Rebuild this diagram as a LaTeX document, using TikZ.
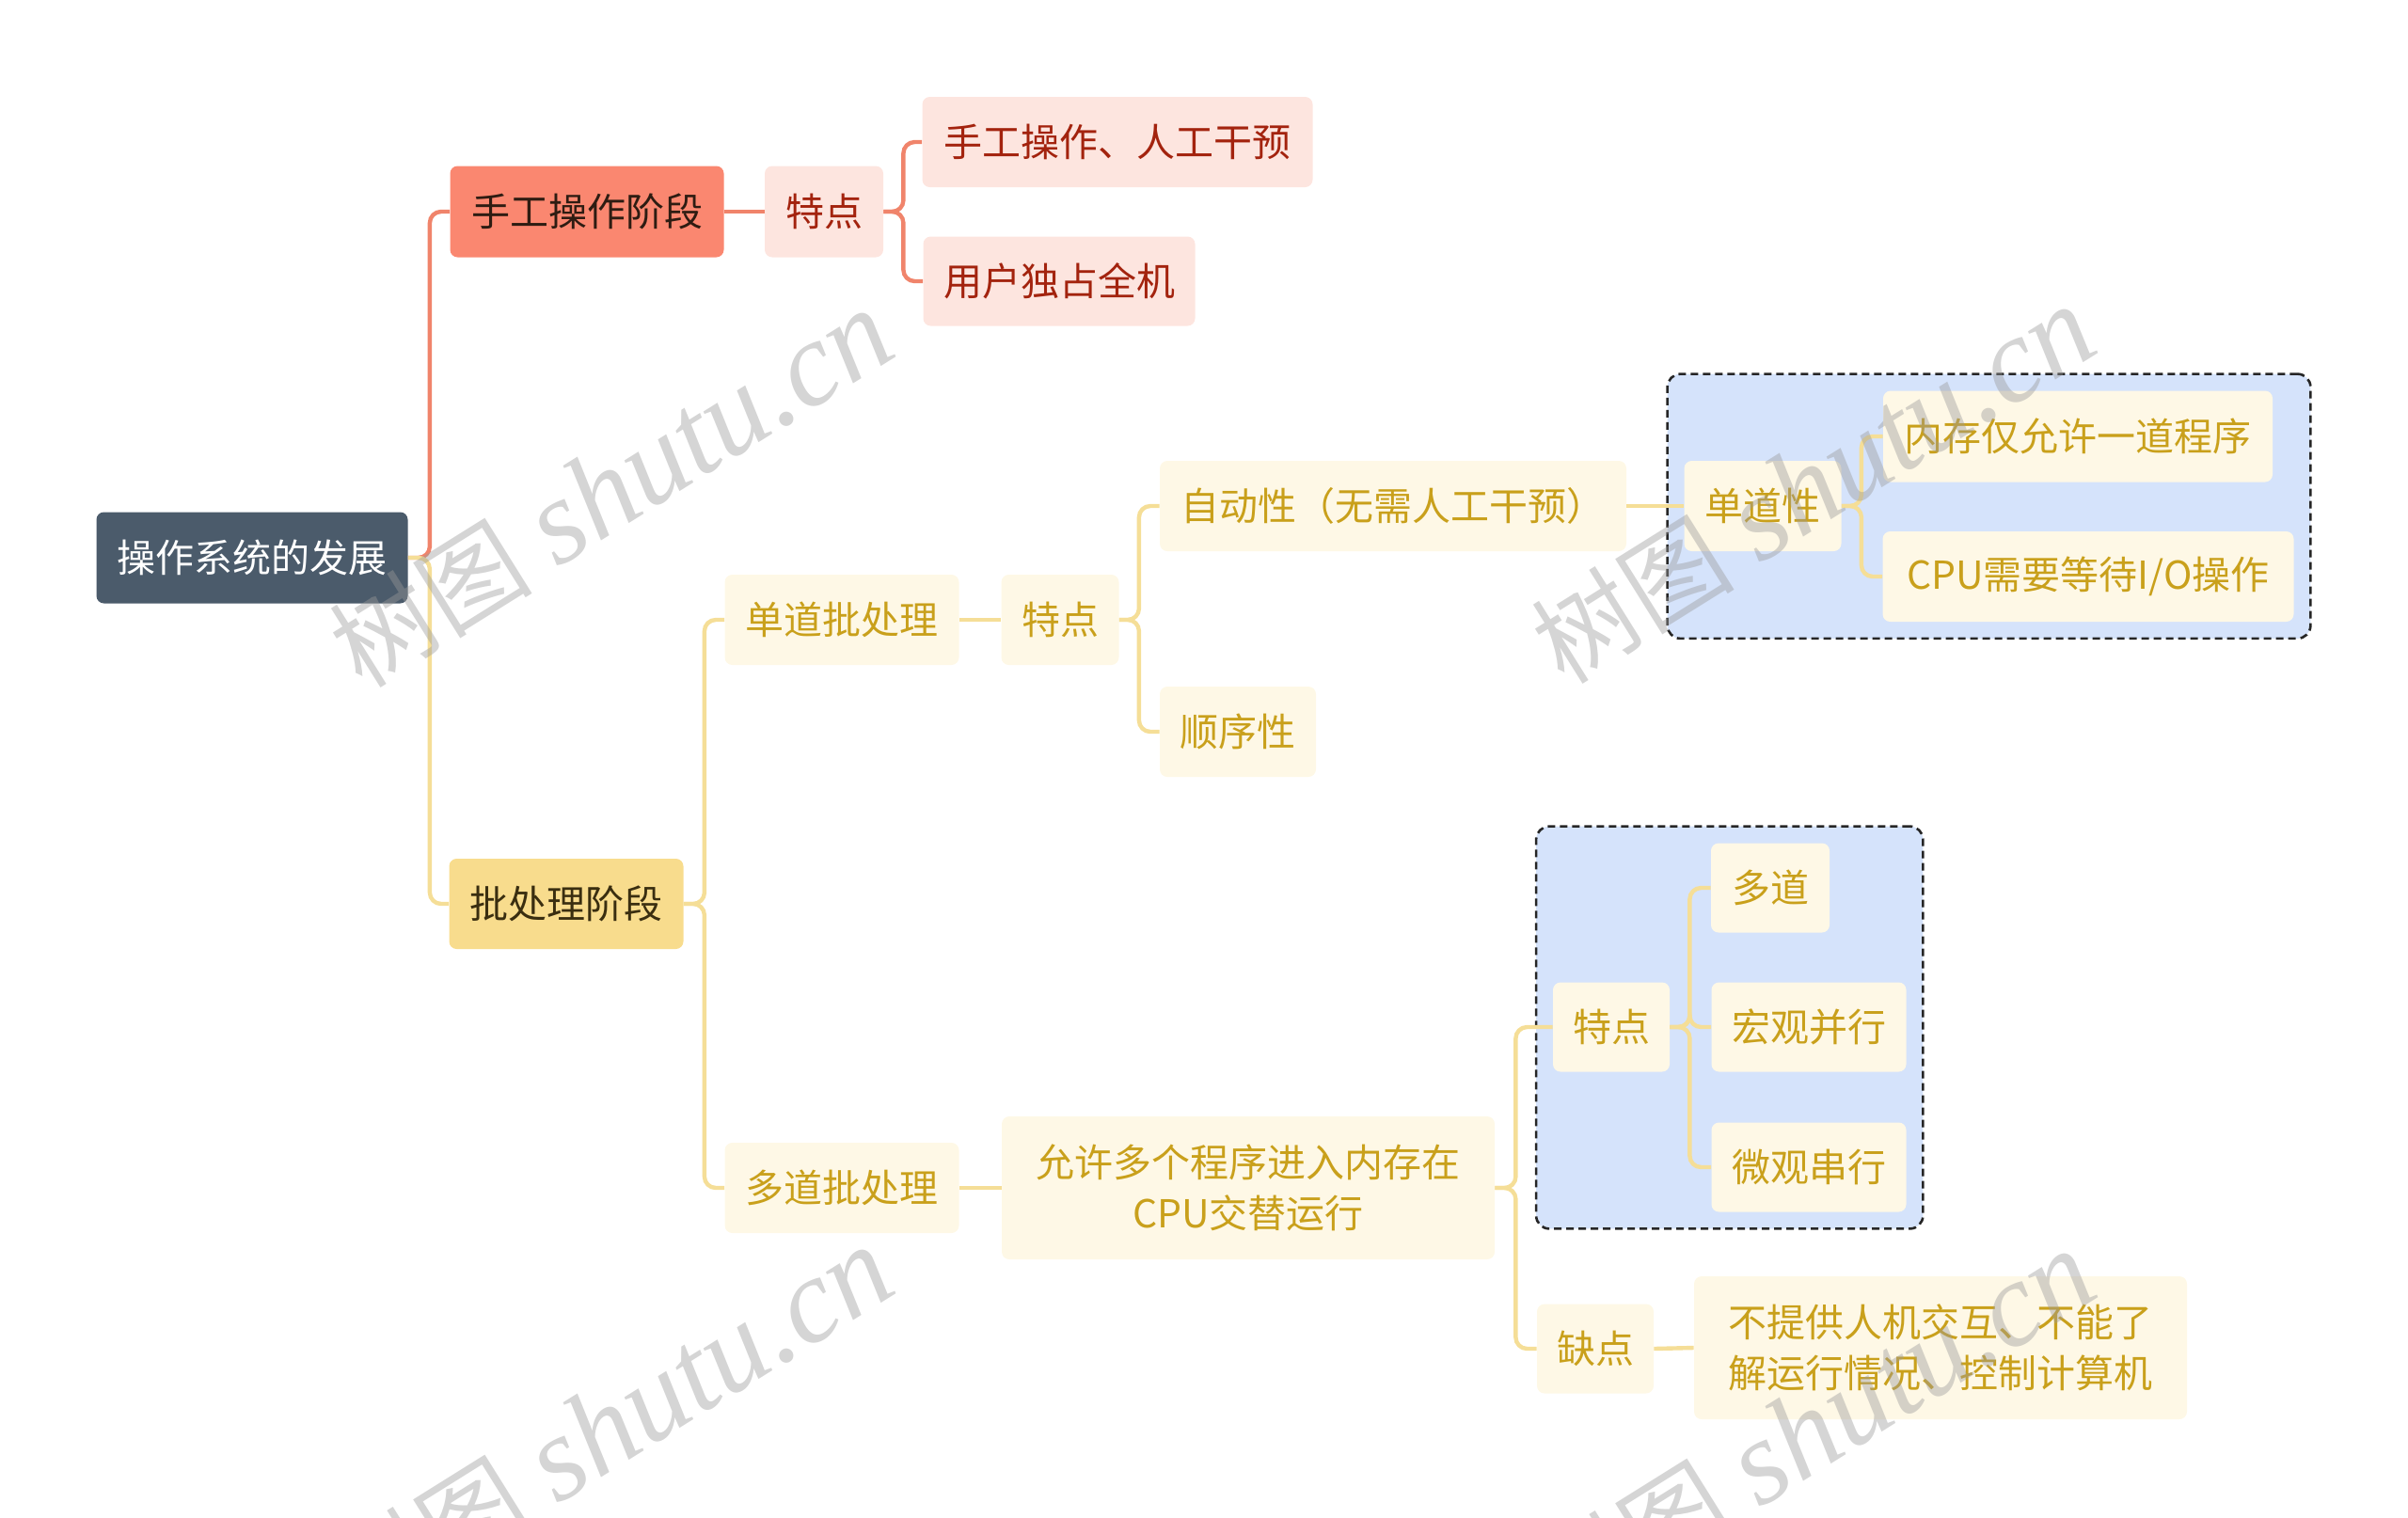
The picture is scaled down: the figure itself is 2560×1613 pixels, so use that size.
\documentclass[tikz,border=0pt]{standalone}
\usepackage{fontspec}
\newfontfamily\cjk{Noto Sans CJK SC}
\newfontfamily\wmserif{Liberation Serif}
\usetikzlibrary{fit,backgrounds}
\definecolor{rootfill}{HTML}{4B5B6B}
\definecolor{salfill}{HTML}{FA8770}
\definecolor{saltext}{HTML}{2E1C12}
\definecolor{salline}{HTML}{F0846B}
\definecolor{pinkfill}{HTML}{FDE5DF}
\definecolor{pinktext}{HTML}{A3230E}
\definecolor{yelfill}{HTML}{F8DC8D}
\definecolor{yeltext}{HTML}{3A2E10}
\definecolor{yelline}{HTML}{F5DE97}
\definecolor{creamfill}{HTML}{FEF8E6}
\definecolor{goldtext}{HTML}{C9A01B}
\definecolor{bluefill}{HTML}{D5E3FB}
\definecolor{wmgray}{HTML}{9A9A9A}
\tikzset{
  box/.style={rounded corners=4pt, inner sep=0pt, align=center,
    font=\cjk\fontsize{20.5}{27}\selectfont},
  rootbox/.style={box, fill=rootfill, text=white},
  salbox/.style={box, fill=salfill, text=saltext},
  pinkbox/.style={box, fill=pinkfill, text=pinktext},
  yelbox/.style={box, fill=yelfill, text=yeltext},
  creambox/.style={box, fill=creamfill, text=goldtext},
  sline/.style={draw=salline, line width=2.2pt, rounded corners=6pt},
  yline/.style={draw=yelline, line width=2.2pt, rounded corners=6pt},
  dashbox/.style={draw=black!85, dash pattern=on 4pt off 2.5pt, line width=1.3pt, fill=bluefill,
    rounded corners=7pt, inner sep=8.75pt},
  wmark/.style={text=wmgray, rotate=32, text opacity=0.42}
}
\begin{document}
\begin{tikzpicture}[x=0.5pt,y=-0.5pt]
\useasboundingbox (0,0) rectangle (2560,1613);
% nodes
\node[rootbox, minimum width=165.5pt, minimum height=48.5pt] (root) at (268,593) {操作系统的发展};
\node[salbox, minimum width=145.5pt, minimum height=48.5pt] (hs) at (624,225) {手工操作阶段};
\node[pinkbox, minimum width=63pt, minimum height=48.5pt] (td1) at (876,225) {特点};
\node[pinkbox, minimum width=207.5pt, minimum height=48pt] (rg) at (1188,151) {手工操作、人工干预};
\node[pinkbox, minimum width=144.5pt, minimum height=47.5pt] (yh) at (1126,299) {用户独占全机};
\node[yelbox, minimum width=124.5pt, minimum height=48pt] (pc) at (602,961) {批处理阶段};
\node[creambox, minimum width=124.5pt, minimum height=48pt] (dd) at (895,659) {单道批处理};
\node[creambox, minimum width=62.5pt, minimum height=48pt] (td2) at (1127,659) {特点};
\node[creambox, minimum width=248pt, minimum height=48pt] (zd) at (1481,538) {自动性（无需人工干预）};
\node[creambox, minimum width=83pt, minimum height=48pt] (sx) at (1316,778) {顺序性};
\node[creambox, minimum width=83.5pt, minimum height=48pt] (ddx) at (1874,538) {单道性};
\node[creambox, minimum width=207pt, minimum height=48.5pt] (nc) at (2209,464) {内存仅允许一道程序};
\node[creambox, minimum width=218.5pt, minimum height=48pt] (cpu) at (2220,613) {CPU需要等待I/O操作};
\node[creambox, minimum width=124.5pt, minimum height=48pt] (md) at (895,1263) {多道批处理};
\node[creambox, minimum width=262pt, minimum height=76pt] (yx) at (1327,1263) {允许多个程序进入内存在\\CPU交替运行};
\node[creambox, minimum width=62pt, minimum height=47.5pt] (td3) at (1713,1092) {特点};
\node[creambox, minimum width=63pt, minimum height=47.5pt] (duo) at (1882,944) {多道};
\node[creambox, minimum width=103.5pt, minimum height=47.5pt] (hg) at (1923,1092) {宏观并行};
\node[creambox, minimum width=103.5pt, minimum height=47.5pt] (wg) at (1923,1241) {微观串行};
\node[creambox, minimum width=62pt, minimum height=47.5pt] (qd) at (1696,1434) {缺点};
\node[creambox, minimum width=262pt, minimum height=76pt, align=left] (bt) at (2063,1433) {不提供人机交互、不能了\\解运行情况、控制计算机};
% dashed groups
\begin{scope}[on background layer]
\node[dashbox, fit=(ddx)(nc)(cpu)] (g1) {};
\node[dashbox, fit=(td3)(duo)(hg)(wg)] (g2) {};
\end{scope}
% connectors
\draw[sline] (root.east) -- ++(23,0) |- (hs.west);
\draw[yline] (root.east) -- ++(23,0) |- (pc.west);
\draw[sline] (hs.east) -- (td1.west);
\draw[sline] (td1.east) -- ++(21,0) |- (rg.west);
\draw[sline] (td1.east) -- ++(21,0) |- (yh.west);
\draw[yline] (pc.east) -- ++(22,0) |- (dd.west);
\draw[yline] (pc.east) -- ++(22,0) |- (md.west);
\draw[yline] (dd.east) -- (td2.west);
\draw[yline] (td2.east) -- ++(21,0) |- (zd.west);
\draw[yline] (td2.east) -- ++(21,0) |- (sx.west);
\draw[yline] (zd.east) -- (ddx.west);
\draw[yline] (ddx.east) -- ++(21,0) |- (nc.west);
\draw[yline] (ddx.east) -- ++(21,0) |- (cpu.west);
\draw[yline] (md.east) -- (yx.west);
\draw[yline] (yx.east) -- ++(22,0) |- (td3.west);
\draw[yline] (yx.east) -- ++(22,0) |- (qd.west);
\draw[yline] (td3.east) -- ++(21,0) |- (duo.west);
\draw[yline] (td3.east) -- ++(21,0) |- (hg.west);
\draw[yline] (td3.east) -- ++(21,0) |- (wg.west);
\draw[yline] (qd.east) -- (bt.west);
% watermarks
\foreach \wx/\wy [count=\i] in {650/520, 1928/516, 650/1516, 1928/1520}{
  \node[wmark] (wm\i) at (\wx,\wy) {{\cjk\fontsize{54}{54}\selectfont 树图}\hspace{14pt}{\wmserif\itshape\fontsize{64}{64}\selectfont shutu.cn}};
}
\end{tikzpicture}
\end{document}
